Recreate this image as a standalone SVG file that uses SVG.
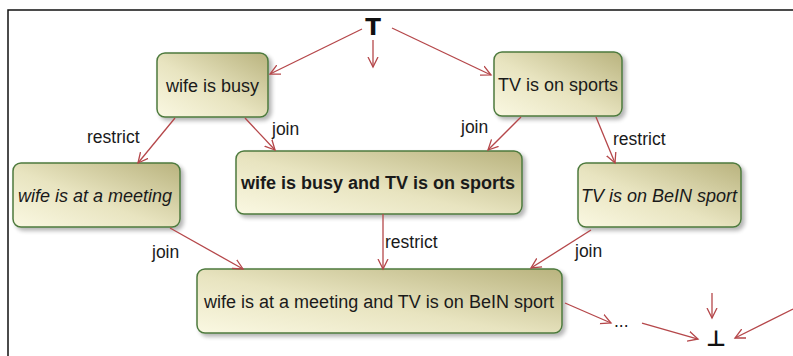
<svg xmlns="http://www.w3.org/2000/svg" width="793" height="356" viewBox="0 0 793 356">
  <style>
    .box { fill: url(#nodeFill); stroke: #4d7a3e; stroke-width: 1.5; filter: url(#shadow); }
    .lbl { font-family: "Liberation Sans", Arial, sans-serif; font-size: 18px; fill: #1a1a1a; text-anchor: middle; }
    .it { font-style: italic; }
    .bd { font-weight: bold; }
    .edge { fill: #1a1a1a; font-family: "Liberation Sans", Arial, sans-serif; font-size: 17.5px; }
    .conn path { fill: none; stroke: #b5474a; stroke-width: 1.3; marker-end: url(#arrow); }
    .sym { font-family: "DejaVu Sans", "Liberation Sans", sans-serif; font-weight: bold; fill: #111; text-anchor: middle; }
  </style>
  <defs>
    <linearGradient id="nodeFill" x1="0" y1="1" x2="1" y2="0">
      <stop offset="0" stop-color="#faf8e2"/>
      <stop offset="0.45" stop-color="#e8e4c0"/>
      <stop offset="1" stop-color="#b9b37e"/>
    </linearGradient>
    <filter id="shadow" x="-10%" y="-20%" width="125%" height="150%">
      <feGaussianBlur in="SourceAlpha" stdDeviation="2"/>
      <feOffset dx="3" dy="3" result="b"/>
      <feComponentTransfer><feFuncA type="linear" slope="0.3"/></feComponentTransfer>
      <feMerge><feMergeNode/><feMergeNode in="SourceGraphic"/></feMerge>
    </filter>
    <marker id="arrow" markerWidth="12" markerHeight="12" refX="10" refY="5" orient="auto" markerUnits="userSpaceOnUse" viewBox="0 0 12 10">
      <path d="M0,0 L10,5 L0,10" fill="none" stroke="#b5474a" stroke-width="1.3"/>
    </marker>
  </defs>

  <rect width="793" height="356" fill="#ffffff"/>
  <!-- outer frame, open on the right and bottom -->
  <rect x="8" y="10" width="800" height="360" fill="none" stroke="#111" stroke-width="1.5"/>

  <g id="top">
    <text class="sym" x="373" y="35" font-size="23">T</text>
  </g>
  <g id="bottom-sym">
    <text class="sym" x="716" y="346" font-size="22">⊥</text>
  </g>
  <g id="ellipsis">
    <text class="edge" x="614" y="327" font-size="16">...</text>
  </g>

  <g id="wife-busy">
    <rect class="box" x="157" y="53" width="111" height="64" rx="8"/>
    <text class="lbl" x="212.5" y="92">wife is busy</text>
  </g>
  <g id="tv-sports">
    <rect class="box" x="494" y="52" width="128" height="64" rx="8"/>
    <text class="lbl" x="558" y="91">TV is on sports</text>
  </g>
  <g id="wife-meeting">
    <rect class="box" x="13" y="163" width="167" height="64" rx="8"/>
    <text class="lbl it" x="95" y="202">wife is at a meeting</text>
  </g>
  <g id="busy-and-sports">
    <rect class="box" x="236" y="151" width="286" height="63" rx="8"/>
    <text class="lbl bd" x="378" y="189">wife is busy and TV is on sports</text>
  </g>
  <g id="tv-bein">
    <rect class="box" x="578" y="163" width="163" height="64" rx="8"/>
    <text class="lbl it" x="659" y="202">TV is on BeIN sport</text>
  </g>
  <g id="meeting-and-bein">
    <rect class="box" x="197" y="269" width="365" height="64" rx="8"/>
    <text class="lbl" x="379" y="308">wife is at a meeting and TV is on BeIN sport</text>
  </g>

  <g id="connectors" class="conn">
    <path d="M362,29 L270,74"/>
    <path d="M373,40 L373,67"/>
    <path d="M392,28 L491,75"/>
    <path d="M175,118 L138,163"/>
    <path d="M245,118 L275,150"/>
    <path d="M521,117 L488,150"/>
    <path d="M596,117 L615,163"/>
    <path d="M170,228 L243,269"/>
    <path d="M383,214 L383,269"/>
    <path d="M591,230 L531,268"/>
    <path d="M565,303 L611,323"/>
    <path d="M642,323 L698,339"/>
    <path d="M712,293 L712,318"/>
    <path d="M793,309 L735,338"/>
  </g>

  <g id="connector-labels">
    <text class="edge" x="87" y="143">restrict</text>
    <text class="edge" x="272" y="135">join</text>
    <text class="edge" x="461" y="133">join</text>
    <text class="edge" x="613" y="145">restrict</text>
    <text class="edge" x="152" y="258">join</text>
    <text class="edge" x="385" y="248">restrict</text>
    <text class="edge" x="575" y="257">join</text>
  </g>
</svg>
